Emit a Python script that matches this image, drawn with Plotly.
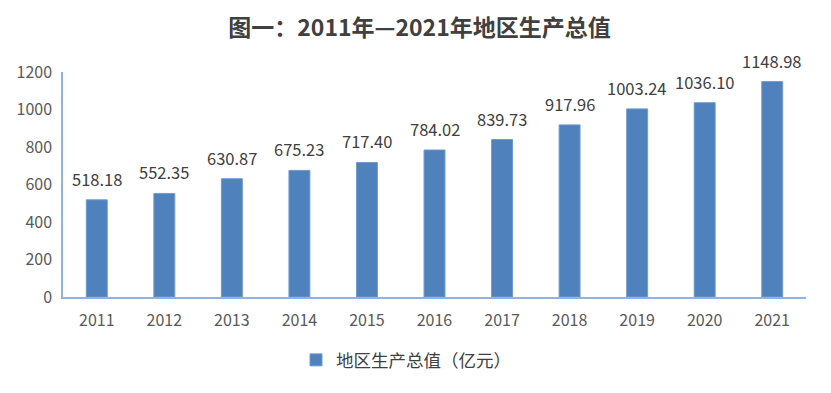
import plotly.graph_objects as go

years = ["2011", "2012", "2013", "2014", "2015", "2016", "2017", "2018", "2019", "2020", "2021"]
values = [518.18, 552.35, 630.87, 675.23, 717.40, 784.02, 839.73, 917.96, 1003.24, 1036.10, 1148.98]
series_name = "地区生产总值（亿元）"
title_text = "图一：2011年—2021年地区生产总值"
y_ticks = [0, 200, 400, 600, 800, 1000, 1200]

font_fam = "Noto Sans CJK SC, Noto Sans, sans-serif"

fig = go.Figure()
fig.add_trace(go.Bar(
    x=years, y=values, name=series_name,
    marker=dict(color="#4F81BD", line=dict(color="#6F9AD0", width=1)),
    showlegend=True,
))

# data labels: category index on the category axis, value on the y axis
for i, v in enumerate(values):
    fig.add_annotation(x=i, y=v, xref="x", yref="y", text=f"{v:.2f}", showarrow=False,
                       xanchor="center", yanchor="middle", yshift=21,
                       font=dict(size=16.5, color="#404040", family=font_fam))

fig.update_layout(
    width=823, height=385,
    margin=dict(l=55, r=25, t=64, b=96, autoexpand=False),
    paper_bgcolor="white", plot_bgcolor="white",
    bargap=0.69,
    font=dict(family=font_fam, color="#595959", size=16),
    title=dict(text="<b>" + title_text + "</b>", x=0.5, xanchor="center",
               y=0.948, yanchor="middle",
               font=dict(size=23, color="#404040", family=font_fam)),
    xaxis=dict(type="category", categoryarray=years, range=[-0.5, len(years) - 0.5],
               showline=True, linecolor="#8EB4E3", linewidth=1.5, ticks="",
               automargin=False, ticklabelstandoff=8,
               tickfont=dict(size=16, color="#595959"), showgrid=False),
    yaxis=dict(range=[0, 1200], tickvals=y_ticks, showline=True, linecolor="#8EB4E3",
               automargin=False, ticklabelstandoff=6,
               linewidth=1.5, showgrid=False, zeroline=False, ticks="",
               tickfont=dict(size=16, color="#595959")),
    legend=dict(orientation="h", x=0.3136, xanchor="left", y=-0.28, yanchor="middle",
                font=dict(size=17.5, color="#404040")),
)

fig.write_html("out.html")
